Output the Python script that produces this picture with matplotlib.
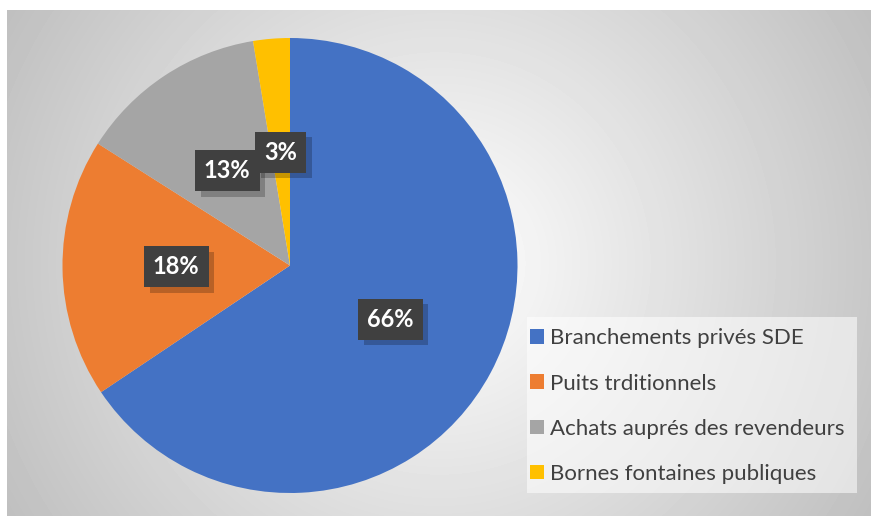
import numpy as np
import matplotlib
matplotlib.use("Agg")
import matplotlib.pyplot as plt
from matplotlib.patches import Rectangle, Patch
import matplotlib.patheffects as pe

# données
categories = [
    "Branchements privés SDE",
    "Puits trditionnels",
    "Achats auprés des revendeurs",
    "Bornes fontaines publiques",
]
parts = [65.6, 18.4, 13.4, 2.6]
couleurs = ["#4472C4", "#ED7D31", "#A5A5A5", "#FFC000"]

W, H = 871, 516
plt.rcParams["font.family"] = ["Lato", "DejaVu Sans"]

fig = plt.figure(figsize=(W / 100, H / 100), dpi=100)
fig.patch.set_facecolor("white")

# fond en dégradé radial (zone du graphique)
ax_bg = fig.add_axes([7 / W, 0, 1 - 7 / W, 1 - 10 / H], zorder=0)
hh, ww = H - 10, W - 7
yy, xx = np.mgrid[0:hh, 0:ww]
cx, cy = 432, 253
r = np.hypot(xx - cx, yy - cy) / np.hypot(cx, cy)
grad = 1 - 0.25 * np.clip(r, 0, 1.1)
ax_bg.imshow(grad, cmap="gray", vmin=0, vmax=1, aspect="auto",
             interpolation="bilinear")
ax_bg.axis("off")

# camembert
rayon = 227.5
cx_pie, cy_pie = 290, 265.5
ax = fig.add_axes([(cx_pie - rayon) / W, (H - cy_pie - rayon) / H,
                   2 * rayon / W, 2 * rayon / H], zorder=1)
wedges, _, autotexts = ax.pie(
    parts, colors=couleurs, startangle=90, counterclock=False,
    autopct="%1.0f%%", pctdistance=0.5, radius=1,
    wedgeprops=dict(linewidth=0),
    textprops=dict(color="white", fontsize=17, fontweight="bold"),
)
ax.set_xlim(-1, 1)
ax.set_ylim(-1, 1)
ax.set_aspect("equal")

for t in autotexts:
    t.set_bbox(dict(boxstyle="square,pad=0.38", facecolor="#404040",
                    edgecolor="none"))
    t.get_bbox_patch().set_path_effects([
        pe.SimplePatchShadow(offset=(4, -4), shadow_rgbFace="black", alpha=0.22),
        pe.Normal(),
    ])

# cadre de la légende
fig.patches.append(Rectangle((527 / W, 1 - 493 / H), (857 - 527) / W, (493 - 317) / H,
                             transform=fig.transFigure, facecolor="white",
                             alpha=0.55, edgecolor="none", zorder=2))

handles = [Patch(facecolor=c, edgecolor="none") for c in couleurs]
leg = fig.legend(
    handles, categories, loc="upper left",
    bbox_to_anchor=(526 / W, 1 - 324 / H), borderaxespad=0,
    frameon=False, fontsize=16, handlelength=0.63, handleheight=0.63,
    handletextpad=0.27, labelspacing=1.13, borderpad=0.2,
)
leg.set_zorder(3)
for txt in leg.get_texts():
    txt.set_color("#404040")

plt.savefig("out.png", dpi=100)
